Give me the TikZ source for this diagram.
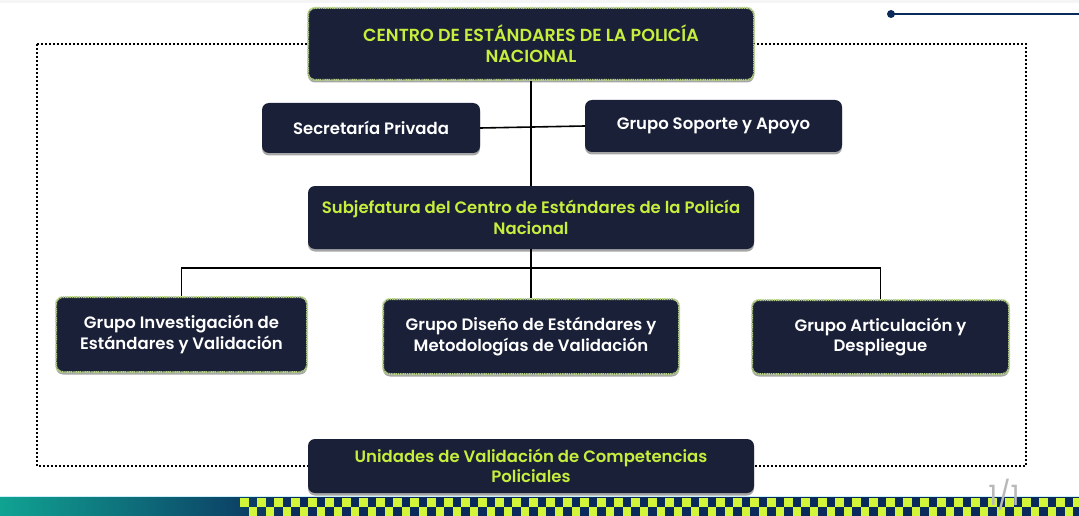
\documentclass[tikz,border=0pt]{standalone}
\usepackage{fontspec}
\setmainfont{Poppins}[BoldFont={Poppins SemiBold}]
\usetikzlibrary{shadows}
\definecolor{navy}{HTML}{1A2038}
\definecolor{lime}{HTML}{C6EE3C}
\definecolor{limeedge}{HTML}{B5CF86}
\definecolor{barteal}{HTML}{10A392}
\definecolor{barnavy}{HTML}{0B2A5C}
\definecolor{chkY}{HTML}{D2F53A}
\definecolor{chkB}{HTML}{0E4A6E}
\tikzset{
  x=1pt, y=-1pt,
  orgbox/.style={draw=none, fill=navy, rounded corners=7pt, align=center, inner sep=0pt,
    drop shadow={shadow xshift=0pt, shadow yshift=-2.5pt, opacity=0.35, fill=black}},
  gbox/.style={orgbox, draw=limeedge, line width=2pt, dash pattern=on 1.2pt off 0.6pt},
  greentxt/.style={text=lime, font=\bfseries\fontsize{16.5}{20.5}\selectfont},
  whitetxt/.style={text=white, font=\bfseries\fontsize{16.5}{20.5}\selectfont},
  conn/.style={draw=black, line width=1.6pt},
}
\begin{document}
\begin{tikzpicture}
\useasboundingbox (0,0) rectangle (1079,516);
\fill[white] (0,0) rectangle (1079,516);
% top thin band
\fill[gray!8] (0,0) rectangle (1079,3);
% top-right dot and line
\draw[barnavy, line width=1.2pt] (891,14) -- (1079,14);
\fill[barnavy] (891,14) circle (4pt);
% outer dotted frame
\draw[black, line width=2pt, dash pattern=on 2pt off 2pt] (37,44) rectangle (1026,466);

% nodes
\node[gbox, greentxt, font=\bfseries\fontsize{17.5}{21}\selectfont, minimum width=446pt, minimum height=72pt] (top) at (531,44)
  {CENTRO DE ESTÁNDARES DE LA POLICÍA\\NACIONAL};
\node[orgbox, whitetxt, minimum width=218pt, minimum height=50pt] (sec) at (371,128)
  {Secretaría Privada};
\node[orgbox, whitetxt, minimum width=257pt, minimum height=52pt] (sop) at (713.5,126)
  {Grupo Soporte y Apoyo};
\node[orgbox, greentxt, minimum width=446pt, minimum height=63pt] (sub) at (531,217.5)
  {Subjefatura del Centro de Estándares de la Policía\\Nacional};
\node[gbox, whitetxt, minimum width=251pt, minimum height=75pt] (g1) at (181.5,334.5)
  {Grupo Investigación de\\Estándares y Validación};
\node[gbox, whitetxt, minimum width=296pt, minimum height=75pt] (g2) at (531,336.5)
  {Grupo Diseño de Estándares y\\Metodologías de Validación};
\node[gbox, whitetxt, minimum width=257pt, minimum height=74pt] (g3) at (880.5,337)
  {Grupo Articulación y\\Despliegue};
\node[orgbox, greentxt, minimum width=446pt, minimum height=54pt] (uni) at (531,466)
  {Unidades de Validación de Competencias\\Policiales};

% connectors
\coordinate (bus) at (531,268);
\draw[conn] (top.south) -- (sub.north);
\draw[conn] (sec.east) -- (sop.west);
\draw[conn] (sub.south) -- (g2.north);
\draw[conn] (g1.north) -- (g1.north |- bus) -- (g3.north |- bus) -- (g3.north);

% bottom bar
\shade[left color=barteal, right color=barnavy] (0,497) rectangle (300,516);
\fill[barnavy] (299,497) rectangle (1079,516);
\foreach \i in {0,...,98} {
  \pgfmathsetmacro{\xx}{240+\i*8.5}
  \pgfmathparse{mod(\i,2)==0 ? 1 : 0}
  \ifnum\pgfmathresult=1
    \fill[chkY] (\xx,497.5) rectangle ++(8.5,9);
  \else
    \fill[chkY] (\xx,506.5) rectangle ++(8.5,9.5);
  \fi
}
\draw[cyan!20, line width=0.8pt] (0,496.5) -- (1079,496.5);
\node[text=gray!55, font=\fontsize{28}{28}\selectfont, anchor=center, inner sep=0pt] (pg) at (1004,495) {1/1};
\end{tikzpicture}
\end{document}
